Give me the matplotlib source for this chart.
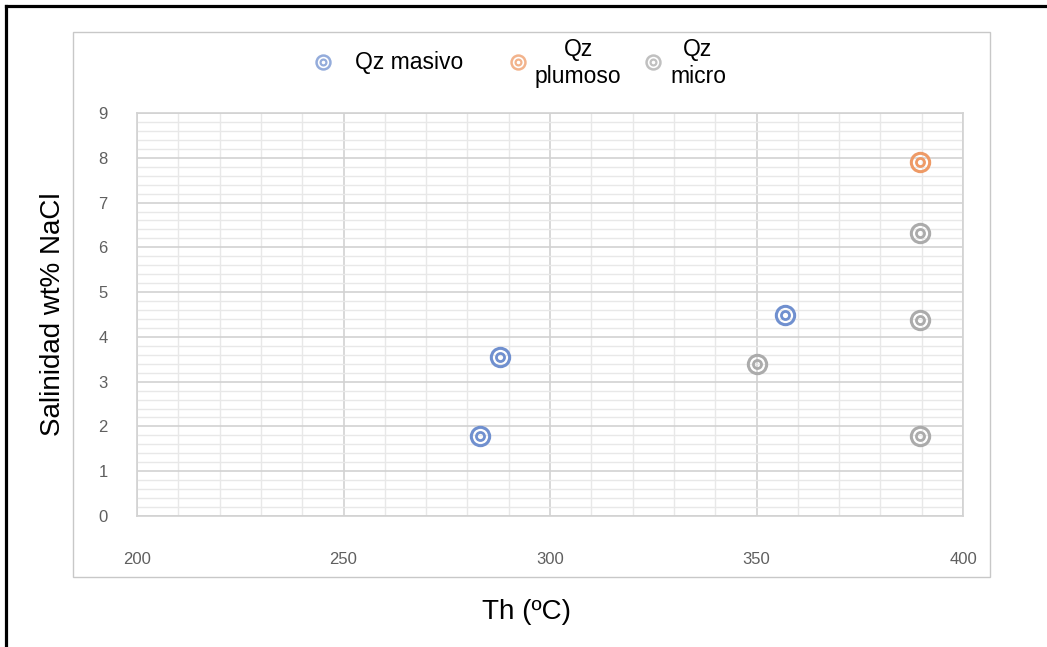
import matplotlib
matplotlib.use("Agg")
import matplotlib.pyplot as plt
from matplotlib.lines import Line2D
from matplotlib.patches import Rectangle
from matplotlib.ticker import MultipleLocator

# datos
masivo_th = [283, 288, 357]
masivo_sal = [1.78, 3.55, 4.5]
plumoso_th = [389.5]
plumoso_sal = [7.9]
micro_th = [389.5, 389.5, 389.5, 350]
micro_sal = [6.33, 4.37, 1.78, 3.39]

series_names = ["Qz masivo", "Qz\nplumoso", "Qz\nmicro"]
series_colors = ["#7090CF", "#EE9A66", "#ABABAB"]

plt.rcParams['font.family'] = ['Liberation Sans', 'DejaVu Sans']

W, H = 1047, 647
fig = plt.figure(figsize=(W / 100, H / 100), dpi=100)

# marco exterior (solo arriba e izquierda)
fig.add_artist(Line2D([6 / W, 1], [1 - 6 / H, 1 - 6 / H], transform=fig.transFigure,
                      color="black", lw=2.3))
fig.add_artist(Line2D([6 / W, 6 / W], [0, 1 - 6 / H], transform=fig.transFigure,
                      color="black", lw=2.3))
# caja del grafico
fig.add_artist(Rectangle((73 / W, 1 - 577 / H), (990 - 73) / W, (577 - 32) / H,
                         transform=fig.transFigure, fill=False,
                         edgecolor="#C8C8C8", lw=1.0))

ax = fig.add_axes([137 / W, 1 - 516 / H, (963 - 137) / W, (516 - 113) / H])

def plot_ring(x, y, color):
    ax.plot(x, y, ls="none", marker="o", ms=13.2, mfc="none", mec=color, mew=2.2, zorder=5)
    ax.plot(x, y, ls="none", marker="o", ms=5.8, mfc="none", mec=color, mew=2.0, zorder=5)

plot_ring(masivo_th, masivo_sal, series_colors[0])
plot_ring(plumoso_th, plumoso_sal, series_colors[1])
plot_ring(micro_th, micro_sal, series_colors[2])

ax.set_xlim(200, 400)
ax.set_ylim(0, 9)
ax.xaxis.set_major_locator(MultipleLocator(50))
ax.xaxis.set_minor_locator(MultipleLocator(10))
ax.yaxis.set_major_locator(MultipleLocator(1))
ax.yaxis.set_minor_locator(MultipleLocator(0.2))
ax.grid(which="major", color="#D2D2D2", lw=1.2)
ax.grid(which="minor", color="#E8E8E8", lw=1.0)
ax.set_axisbelow(True)
for s in ax.spines.values():
    s.set_color("#D2D2D2")
    s.set_linewidth(1.2)
ax.tick_params(which="both", length=0)
ax.tick_params(axis="x", pad=26, labelsize=12, labelcolor="#5F5F5F")
ax.tick_params(axis="y", pad=21, labelsize=12, labelcolor="#5F5F5F")

ax.set_ylabel("Salinidad wt% NaCl", fontsize=20, color="black")
ax.yaxis.set_label_coords(-(137 - 53) / (963 - 137), 0.5)
ax.set_xlabel("Th (ºC)", fontsize=20, color="black")
ax.xaxis.set_label_coords((527 - 137) / (963 - 137), -(612 - 516) / (516 - 113))
ax.xaxis.label.set_va("center")
ax.yaxis.label.set_va("center")

# leyenda
leg_marker_x = [323, 518, 653]
leg_text_x = [355, 535, 670]
leg_y = 62
for mx, tx, name, c in zip(leg_marker_x, leg_text_x, series_names, series_colors):
    fig.add_artist(Line2D([mx / W], [1 - leg_y / H], transform=fig.transFigure,
                          ls="none", marker="o", ms=10, mfc="none", mec=c, mew=1.8, alpha=0.75))
    fig.add_artist(Line2D([mx / W], [1 - leg_y / H], transform=fig.transFigure,
                          ls="none", marker="o", ms=4.2, mfc="none", mec=c, mew=1.6, alpha=0.75))
    fig.text(tx / W, 1 - (leg_y + 1) / H, name, fontsize=16.5, ha="left", va="center",
             multialignment="center", linespacing=1.2)

fig.savefig("out.png", dpi=100)
